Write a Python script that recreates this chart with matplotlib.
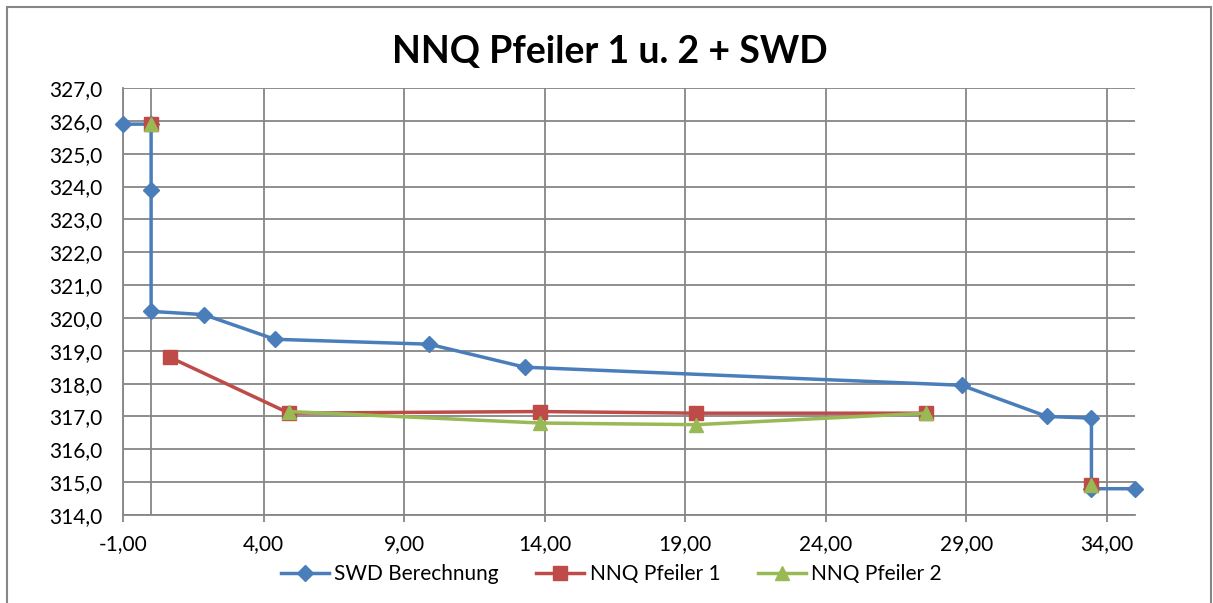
import numpy as np
import matplotlib
matplotlib.use('Agg')
import matplotlib.pyplot as plt
from matplotlib.patches import Rectangle
from matplotlib.ticker import MultipleLocator, FixedLocator, FuncFormatter

plt.rcParams['font.family'] = ['Lato', 'DejaVu Sans']

nan = np.nan

# SWD Berechnung
swd_x = [-1.0, 0.0, 0.0, 0.0, 1.88, 4.40, 9.89, 13.29, 28.83, 31.87, 33.45, 33.45, 35.0]
swd_y = [325.9, 325.9, 323.9, 320.2, 320.1, 319.35, 319.2, 318.5, 317.95, 317.0, 316.95, 314.8, 314.8]

# NNQ Pfeiler 1 (gaps = empty cells)
p1_x = [0.0, nan, 0.67, 4.91, 13.85, 19.4, 27.58, nan, 33.45]
p1_y = [325.9, nan, 318.8, 317.1, 317.15, 317.1, 317.1, nan, 314.9]

# NNQ Pfeiler 2
p2_x = [0.0, nan, 4.91, 13.85, 19.4, 27.58, nan, 33.45]
p2_y = [325.9, nan, 317.15, 316.8, 316.75, 317.1, nan, 314.9]

blue = '#4a7ebb'
red = '#be4b48'
green = '#98b954'
grid_c = '#868686'

fig = plt.figure(figsize=(12.13, 6.03), dpi=100)
ax = fig.add_axes([123/1213, 1-515/603, (1135-123)/1213, (515-88)/603])

ax.plot(swd_x, swd_y, color=blue, lw=2.5, marker='D', ms=8.5, label='SWD Berechnung',
        zorder=3, clip_on=False)
ax.plot(p1_x, p1_y, color=red, lw=2.5, marker='s', ms=9.5, label='NNQ Pfeiler 1',
        zorder=4, clip_on=False)
ax.plot(p2_x, p2_y, color=green, lw=2.5, marker='^', ms=10, label='NNQ Pfeiler 2',
        zorder=5, clip_on=False)

ax.set_xlim(-1, 35)
ax.set_ylim(314, 327)
ax.xaxis.set_major_locator(FixedLocator(np.arange(-1, 35, 5)))
ax.yaxis.set_major_locator(MultipleLocator(1))
ax.xaxis.set_major_formatter(FuncFormatter(lambda v, p: ('%.2f' % v).replace('.', ',')))
ax.yaxis.set_major_formatter(FuncFormatter(lambda v, p: ('%.1f' % v).replace('.', ',')))

ax.grid(True, color=grid_c, lw=1.3)
ax.set_axisbelow(True)
# value axis crosses at x=0
ax.axvline(0, color=grid_c, lw=1.3, zorder=1)

for s in ['top', 'right']:
    ax.spines[s].set_visible(False)
for s in ['left', 'bottom']:
    ax.spines[s].set_color(grid_c)
    ax.spines[s].set_linewidth(1.3)

ax.tick_params(axis='x', length=5, width=1.3, color=grid_c, pad=9, labelsize=15)
ax.tick_params(axis='y', length=0, pad=15, labelsize=15)

fig.text(0.503, 1-52/603, 'NNQ Pfeiler 1 u. 2 + SWD', ha='center', va='center',
         fontsize=27, fontweight='bold')

fig.legend(loc='center', bbox_to_anchor=(0.504, 1-574/603), ncol=3, frameon=False,
           fontsize=15, handlelength=2.3, columnspacing=1.8, handletextpad=0.25,
           borderpad=0)

fig.patches.append(Rectangle((7/1213, -0.05), (1211-7)/1213, 1.05-7/603,
                             transform=fig.transFigure, fill=False,
                             edgecolor='#868686', lw=1.5))

fig.savefig('out.png', dpi=100)
